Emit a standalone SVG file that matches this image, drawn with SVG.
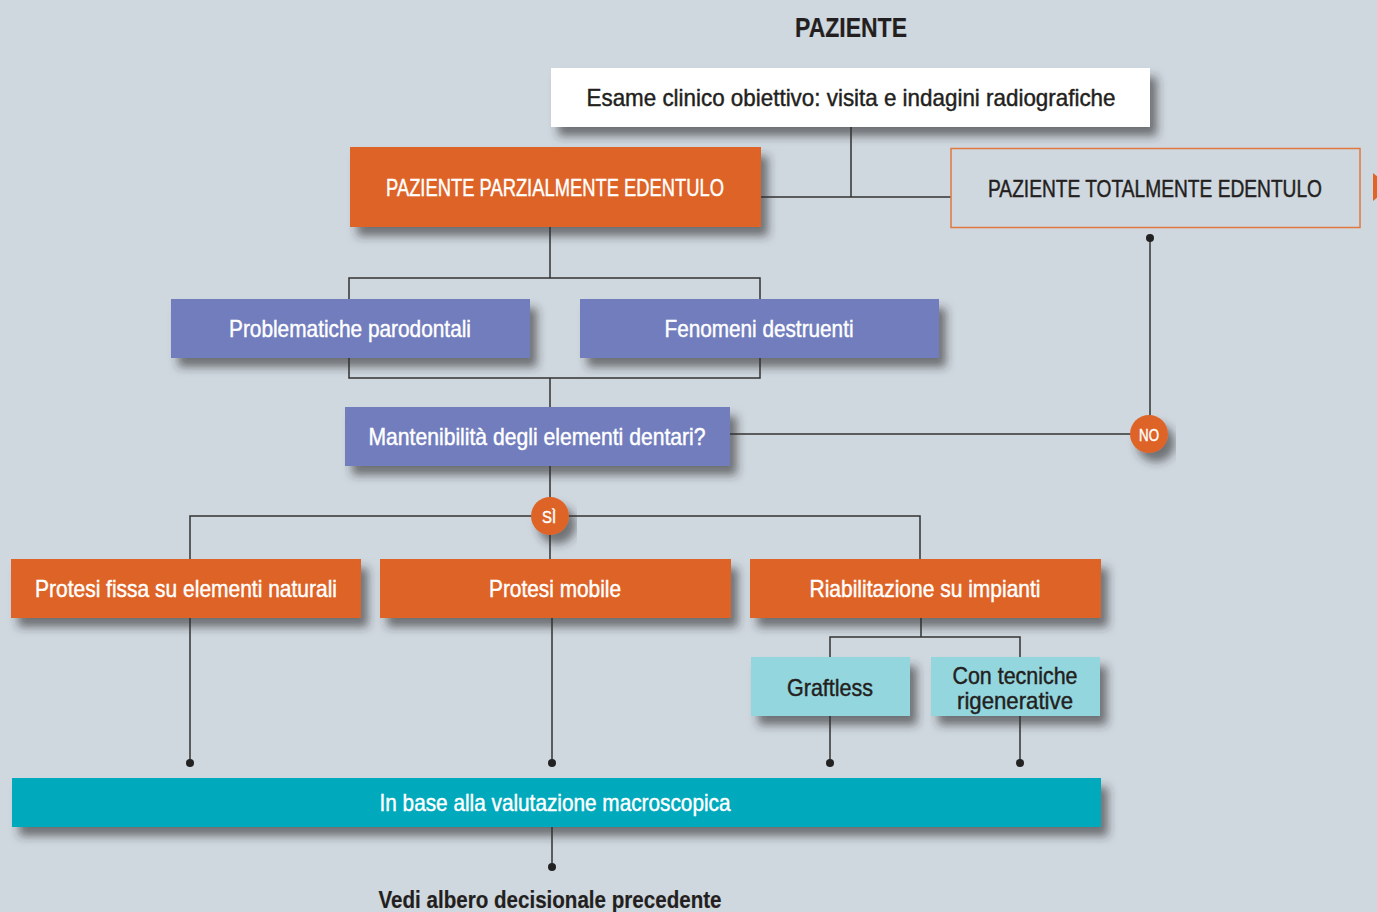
<svg xmlns="http://www.w3.org/2000/svg" width="1377" height="912" viewBox="0 0 1377 912">
<defs>
<filter id="sh" x="-10%" y="-30%" width="130%" height="180%">
<feDropShadow dx="7" dy="9" stdDeviation="5" flood-color="#2a2a2a" flood-opacity="0.6"/>
</filter>
<marker id="dot" viewBox="0 0 10 10" refX="5" refY="5" markerWidth="8" markerHeight="8" markerUnits="userSpaceOnUse">
<circle cx="5" cy="5" r="5" fill="#222"/>
</marker>
</defs>
<style>
text{font-family:"Liberation Sans Narrow","Liberation Sans",Arial,sans-serif;text-anchor:middle;}
.w{fill:#fff;stroke:#fff;stroke-width:0.45;font-size:24px;}
.d{fill:#231f20;stroke:#231f20;stroke-width:0.45;font-size:24px;}
.b{font-weight:bold;stroke-width:0.2;}
.or{fill:#de6428;}
.bl{fill:#717dbd;}
.cy{fill:#93d6de;}
.tl{fill:#02a9bc;}
.ln{fill:none;stroke:#333;stroke-width:1.5;}
</style>
<rect width="1377" height="912" fill="#cfd7df"/>
<polygon points="1373,173 1390,187 1373,201" class="or"/>

<g id="connectors">
<path class="ln" d="M851,127 V197 M761,197 H951"/>
<path class="ln" d="M1150,238 V416" marker-start="url(#dot)"/>
<path class="ln" d="M550,227 V278 M349,299 V278 H760 V299"/>
<path class="ln" d="M349,358 V378 H760 V358 M550,378 V407"/>
<path class="ln" d="M730,434 H1131"/>
<path class="ln" d="M550,466 V559 M190,559 V516 H920 V559"/>
<path class="ln" d="M190,618 V763" marker-end="url(#dot)"/>
<path class="ln" d="M552,618 V763" marker-end="url(#dot)"/>
<path class="ln" d="M921,618 V637 M830,657 V637 H1020 V657"/>
<path class="ln" d="M830,716 V763" marker-end="url(#dot)"/>
<path class="ln" d="M1020,716 V763" marker-end="url(#dot)"/>
<path class="ln" d="M552,827 V867" marker-end="url(#dot)"/>
</g>

<g id="title">
<text x="851" y="37" class="d b" style="font-size:27px" textLength="112" lengthAdjust="spacingAndGlyphs">PAZIENTE</text>
</g>

<g id="esame">
<rect x="551" y="68" width="599" height="59" fill="#fff" filter="url(#sh)"/>
<text x="851" y="106" class="d" textLength="529" lengthAdjust="spacingAndGlyphs">Esame clinico obiettivo: visita e indagini radiografiche</text>
</g>

<g id="parziale">
<rect x="350" y="147" width="411" height="80" class="or" filter="url(#sh)"/>
<text x="555" y="196" class="w" textLength="338" lengthAdjust="spacingAndGlyphs">PAZIENTE PARZIALMENTE EDENTULO</text>
</g>

<g id="totale">
<rect x="951" y="148.5" width="409" height="79" fill="#cfd7df" stroke="#e0783f" stroke-width="1.5"/>
<text x="1155" y="197" class="d" textLength="334" lengthAdjust="spacingAndGlyphs">PAZIENTE TOTALMENTE EDENTULO</text>
</g>

<g id="problematiche">
<rect x="171" y="299" width="359" height="59" class="bl" filter="url(#sh)"/>
<text x="350" y="337" class="w" textLength="242" lengthAdjust="spacingAndGlyphs">Problematiche parodontali</text>
</g>

<g id="fenomeni">
<rect x="580" y="299" width="359" height="59" class="bl" filter="url(#sh)"/>
<text x="759" y="337" class="w" textLength="189" lengthAdjust="spacingAndGlyphs">Fenomeni destruenti</text>
</g>

<g id="mantenibilita">
<rect x="345" y="407" width="385" height="59" class="bl" filter="url(#sh)"/>
<text x="537" y="445" class="w" textLength="337" lengthAdjust="spacingAndGlyphs">Mantenibilità degli elementi dentari?</text>
</g>

<g id="no">
<circle cx="1149" cy="434" r="19" class="or" filter="url(#sh)"/>
<text x="1149" y="440.5" class="w" style="font-size:17px" textLength="20" lengthAdjust="spacingAndGlyphs">NO</text>
</g>

<g id="si">
<circle cx="550" cy="516" r="19" class="or" filter="url(#sh)"/>
<text x="549" y="522.5" class="w" style="font-size:17px" textLength="14" lengthAdjust="spacingAndGlyphs">SÌ</text>
</g>

<g id="fissa">
<rect x="11" y="559" width="350" height="59" class="or" filter="url(#sh)"/>
<text x="186" y="597" class="w" textLength="302" lengthAdjust="spacingAndGlyphs">Protesi fissa su elementi naturali</text>
</g>

<g id="mobile">
<rect x="380" y="559" width="351" height="59" class="or" filter="url(#sh)"/>
<text x="555" y="597" class="w" textLength="132" lengthAdjust="spacingAndGlyphs">Protesi mobile</text>
</g>

<g id="impianti">
<rect x="750" y="559" width="351" height="59" class="or" filter="url(#sh)"/>
<text x="925" y="597" class="w" textLength="231" lengthAdjust="spacingAndGlyphs">Riabilitazione su impianti</text>
</g>

<g id="graftless">
<rect x="751" y="657" width="159" height="59" class="cy" filter="url(#sh)"/>
<text x="830" y="696" class="d" textLength="86" lengthAdjust="spacingAndGlyphs">Graftless</text>
</g>

<g id="rigenerative">
<rect x="931" y="657" width="169" height="59" class="cy" filter="url(#sh)"/>
<text x="1015" y="684" class="d" textLength="125" lengthAdjust="spacingAndGlyphs">Con tecniche</text>
<text x="1015" y="709" class="d" textLength="116" lengthAdjust="spacingAndGlyphs">rigenerative</text>
</g>

<g id="macroscopica">
<rect x="12" y="778" width="1089" height="49" class="tl" filter="url(#sh)"/>
<text x="555" y="811" class="w" textLength="351" lengthAdjust="spacingAndGlyphs">In base alla valutazione macroscopica</text>
</g>

<g id="vedi">
<text x="550" y="908" class="d b" textLength="343" lengthAdjust="spacingAndGlyphs">Vedi albero decisionale precedente</text>
</g>
</svg>
